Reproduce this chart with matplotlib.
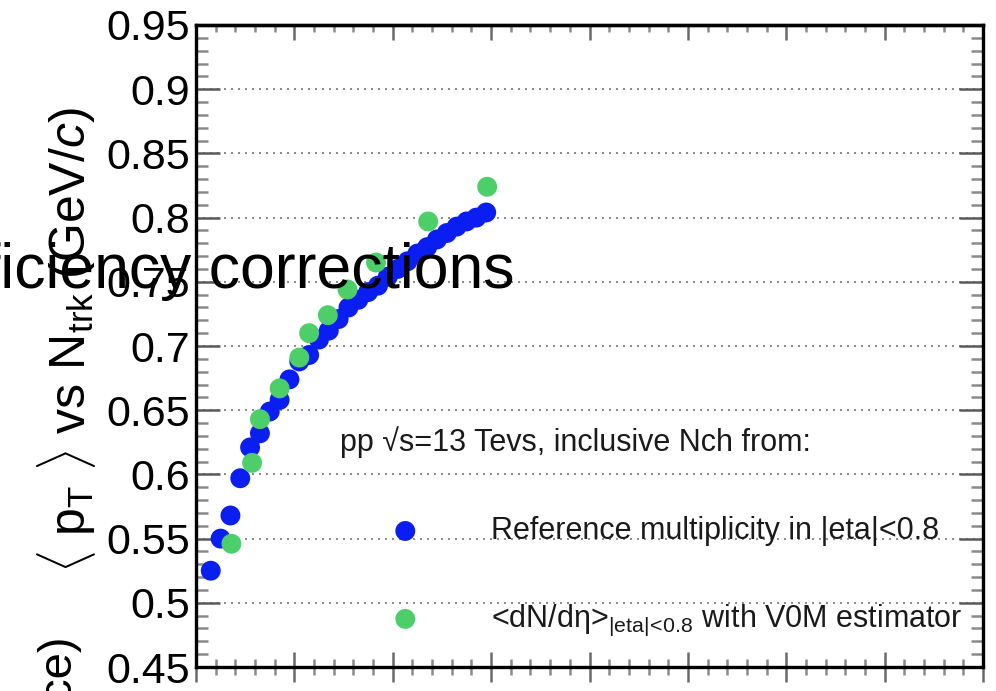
import matplotlib
matplotlib.use("Agg")
import matplotlib.pyplot as plt
from matplotlib.ticker import MultipleLocator

plt.rcParams["font.family"] = ["Liberation Sans", "DejaVu Sans"]
plt.rcParams["mathtext.fontset"] = "custom"
plt.rcParams["mathtext.rm"] = "Liberation Sans"
plt.rcParams["mathtext.it"] = "Liberation Sans:italic"

# ---------- data -------------------------------------------------------------
ntrk_ref = [1.5, 2.5, 3.5, 4.5, 5.5, 6.5, 7.5, 8.5, 9.5, 10.5,
            11.5, 12.5, 13.5, 14.5, 15.5, 16.5, 17.5, 18.5, 19.5, 20.5,
            21.5, 22.5, 23.5, 24.5, 25.5, 26.5, 27.5, 28.5, 29.5]
mpt_ref = [0.525, 0.550, 0.568, 0.597, 0.621, 0.632, 0.649, 0.658, 0.674, 0.688,
           0.693, 0.705, 0.712, 0.721, 0.730, 0.736, 0.742, 0.747, 0.754, 0.760,
           0.766, 0.772, 0.777, 0.783, 0.788, 0.793, 0.797, 0.800, 0.804]

ntrk_v0m = [3.6, 5.7, 6.5, 8.5, 10.5, 11.5, 13.4, 15.4, 18.3, 23.6, 29.6]
mpt_v0m = [0.546, 0.609, 0.643, 0.667, 0.691, 0.710, 0.724, 0.744, 0.765, 0.797, 0.824]

label_ref = "Reference multiplicity in |eta|<0.8"
label_v0m = r"<dN/dη>$_{\mathregular{|eta|\!<\!0.8}}$ with V0M estimator"
header = "pp √s=13 Tevs, inclusive Nch from:"
ylabel = r"$\langle$ p$_{\mathregular{T}}$ $\rangle$ vs N$_{\mathregular{trk}}$ (GeV/$c$)"

W, H = 996, 691
fig = plt.figure(figsize=(W / 100, H / 100), dpi=100)
ax = fig.add_axes([196 / W, 1 - 667 / H, (983 - 196) / W, (667 - 25) / H])

blue = "#0a1ef2"
green = "#4ccf69"
ax.scatter(ntrk_ref, mpt_ref, s=205, color=blue, edgecolors="none", zorder=3, label=label_ref)
ax.scatter(ntrk_v0m, mpt_v0m, s=205, color=green, edgecolors="none", zorder=4, label=label_v0m)

ax.set_xlim(0, 80)
ax.set_ylim(0.45, 0.95)

# y axis: ticks inward on both sides
ax.yaxis.set_major_locator(MultipleLocator(0.05))
ax.yaxis.set_minor_locator(MultipleLocator(0.01))
ax.set_yticks([0.45, 0.5, 0.55, 0.6, 0.65, 0.7, 0.75, 0.8, 0.85, 0.9, 0.95])
ax.set_yticklabels(["0.45", "0.5", "0.55", "0.6", "0.65", "0.7", "0.75",
                    "0.8", "0.85", "0.9", "0.95"])
ax.tick_params(axis="y", which="major", direction="in", length=17, width=1.8,
               color="#5a5a5a", left=True, right=True, labelsize=31, pad=4)
ax.tick_params(axis="y", which="minor", direction="in", length=8.5, width=1.8,
               color="#8a8a8a", left=True, right=True)

# x axis: bottom ticks cross the axis, labels fall outside the crop
ax.xaxis.set_major_locator(MultipleLocator(10))
ax.xaxis.set_minor_locator(MultipleLocator(2))
ax.tick_params(axis="x", which="major", direction="inout", length=21, width=1.8,
               color="#6a6a6a", labelbottom=False)
ax.tick_params(axis="x", which="minor", direction="inout", length=11, width=1.8,
               color="#8a8a8a")

top = ax.secondary_xaxis("top")
top.xaxis.set_major_locator(MultipleLocator(10))
top.xaxis.set_minor_locator(MultipleLocator(2))
top.tick_params(axis="x", which="major", direction="in", length=11, width=1.8,
                color="#6a6a6a", labeltop=False)
top.tick_params(axis="x", which="minor", direction="in", length=5, width=1.8,
                color="#8a8a8a")
top.spines["top"].set_linewidth(2.4)

for sp in ax.spines.values():
    sp.set_linewidth(2.4)
    sp.set_color("black")

ax.grid(axis="y", which="major", color="#777777", linestyle=(0, (1.2, 3.0)), linewidth=1.2)
ax.set_axisbelow(True)

# y label and overlapping pieces of text from the original canvas
fig.text(66 / W, 1 - 340 / H, ylabel, rotation=90, ha="center", va="center", fontsize=36)
fig.text(58 / W, 1 - 634 / H, "ce)", rotation=90, ha="center", va="top", fontsize=34)
fig.text(514 / W, 1 - 288 / H, "efficiency corrections", ha="right", va="baseline",
         fontsize=45, color="black", zorder=10)

fig.text(340 / W, 1 - 442 / H, header, ha="left", va="center", fontsize=22, color="#1a1a1a")
ax.legend(loc="upper left", bbox_to_anchor=(390 / W, 1 - 516 / H),
          bbox_transform=fig.transFigure, frameon=False, fontsize=22,
          handlelength=1.0, handletextpad=2.3, labelspacing=1.86,
          borderpad=0, borderaxespad=0, scatterpoints=1, labelcolor="#1a1a1a")

fig.savefig("out.png", dpi=100)
